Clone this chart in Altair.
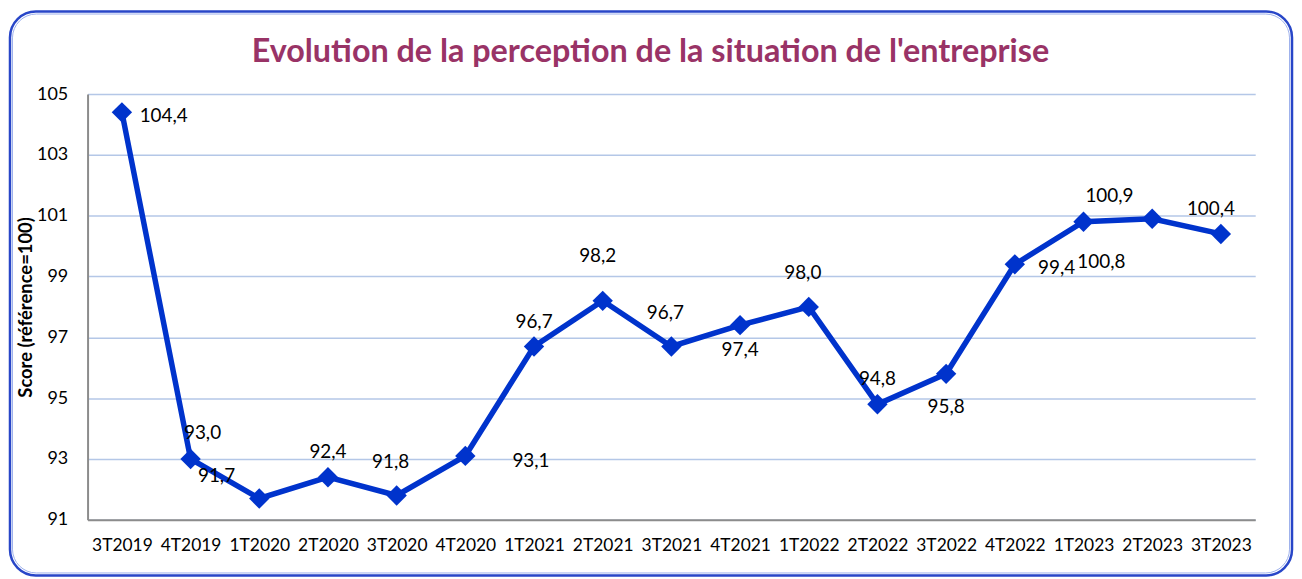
import altair as alt
import pandas as pd

# ---- data ----
quarters = ["3T2019", "4T2019", "1T2020", "2T2020", "3T2020", "4T2020",
            "1T2021", "2T2021", "3T2021", "4T2021", "1T2022", "2T2022",
            "3T2022", "4T2022", "1T2023", "2T2023", "3T2023"]
scores = [104.4, 93.0, 91.7, 92.4, 91.8, 93.1, 96.7, 98.2, 96.7, 97.4,
          98.0, 94.8, 95.8, 99.4, 100.8, 100.9, 100.4]
y_ticks = [91, 93, 95, 97, 99, 101, 103, 105]

title_text = "Evolution de la perception de la situation de l'entreprise"
y_title = "Score (référence=100)"

# ---- label placement (style: offset of each data label from its point) ----
placements = {
    "right": (42, 4),
    "right_far": (66, 5),
    "above": (0, -25),
    "above_r": (12, -26),
    "above_l": (-10, -25),
    "high": (-6, -34),
    "higher": (-5, -45),
    "below": (0, 25),
    "below_far": (0, 33),
    "below_r": (18, 40),
    "up_left": (-43, -23),
}
label_place = {
    "3T2019": "right", "4T2019": "above_r", "1T2020": "up_left",
    "2T2020": "above", "3T2020": "high", "4T2020": "right_far",
    "1T2021": "above", "2T2021": "higher", "3T2021": "high",
    "4T2021": "below", "1T2022": "high", "2T2022": "above",
    "3T2022": "below_far", "4T2022": "right", "1T2023": "below_r",
    "2T2023": "up_left", "3T2023": "above_l",
}

df = pd.DataFrame({"quarter": quarters, "score": scores})

W, H = 1174, 428
LINE = "#0033CC"
FONT = "Lato"

x_enc = alt.X("quarter:N", sort=quarters,
              scale=alt.Scale(type="point", padding=0.5),
              axis=alt.Axis(title=None, labelAngle=0, ticks=False, labelPadding=17,
                            labelFontSize=17.5, labelFont=FONT, labelColor="black",
                            grid=False, domainColor="#8c8c8c", domainWidth=2))
y_enc = alt.Y("score:Q",
              scale=alt.Scale(domain=[91, 105], nice=False, zero=False),
              axis=alt.Axis(values=y_ticks, format="d", title=y_title,
                            ticks=False, labelPadding=20, labelFontSize=18,
                            labelFont=FONT, labelColor="black",
                            gridColor="#B4C7E7", gridWidth=1.5,
                            domainColor="#8c8c8c", domainWidth=2,
                            titleFont=FONT, titleFontSize=18.5, titleFontWeight="bold",
                            titleColor="black", titleAngle=270, titleX=-62, titleY=H / 2,
                            titleAlign="center", titleBaseline="middle"))

base = alt.Chart(df)

border = alt.Chart(alt.Data(values=[{}])).mark_rect(
    fillOpacity=0, stroke="#2846C8", strokeWidth=2.5, cornerRadius=26
).encode(x=alt.value(-78), x2=alt.value(W + 37), y=alt.value(-83), y2=alt.value(H + 56))
border_in = alt.Chart(alt.Data(values=[{}])).mark_rect(
    fillOpacity=0, stroke="#9DB0EC", strokeWidth=1, cornerRadius=24
).encode(x=alt.value(-75.5), x2=alt.value(W + 34.5), y=alt.value(-80.5), y2=alt.value(H + 53.5))

line = base.mark_line(color=LINE, strokeWidth=5.5).encode(x=x_enc, y=y_enc)
points = base.mark_point(shape="diamond", filled=True, size=420, color=LINE, opacity=1).encode(
    x=x_enc, y=y_enc)

texts = []
for name, (dx, dy) in placements.items():
    members = [q for q in quarters if label_place[q] == name]
    if not members:
        continue
    t = base.transform_calculate(
        label="replace(format(datum.score, '.1f'), '.', ',')"
    ).transform_filter(
        alt.FieldOneOfPredicate(field="quarter", oneOf=members)
    ).mark_text(dx=dx, dy=dy, align="center", baseline="middle",
                fontSize=19, font=FONT, color="black").encode(
        x=x_enc, y=y_enc, text="label:N")
    texts.append(t)

chart = alt.layer(border, border_in, line, points, *texts).properties(
    width=W, height=H, padding=0,
    title=alt.TitleParams(title_text, font=FONT, fontSize=32.5, fontWeight="bold",
                          color="#993366", anchor="middle", dx=-21, offset=-58),
).configure_view(stroke=None)

chart.save("out.html", embed_options={"renderer": "svg", "actions": False})
